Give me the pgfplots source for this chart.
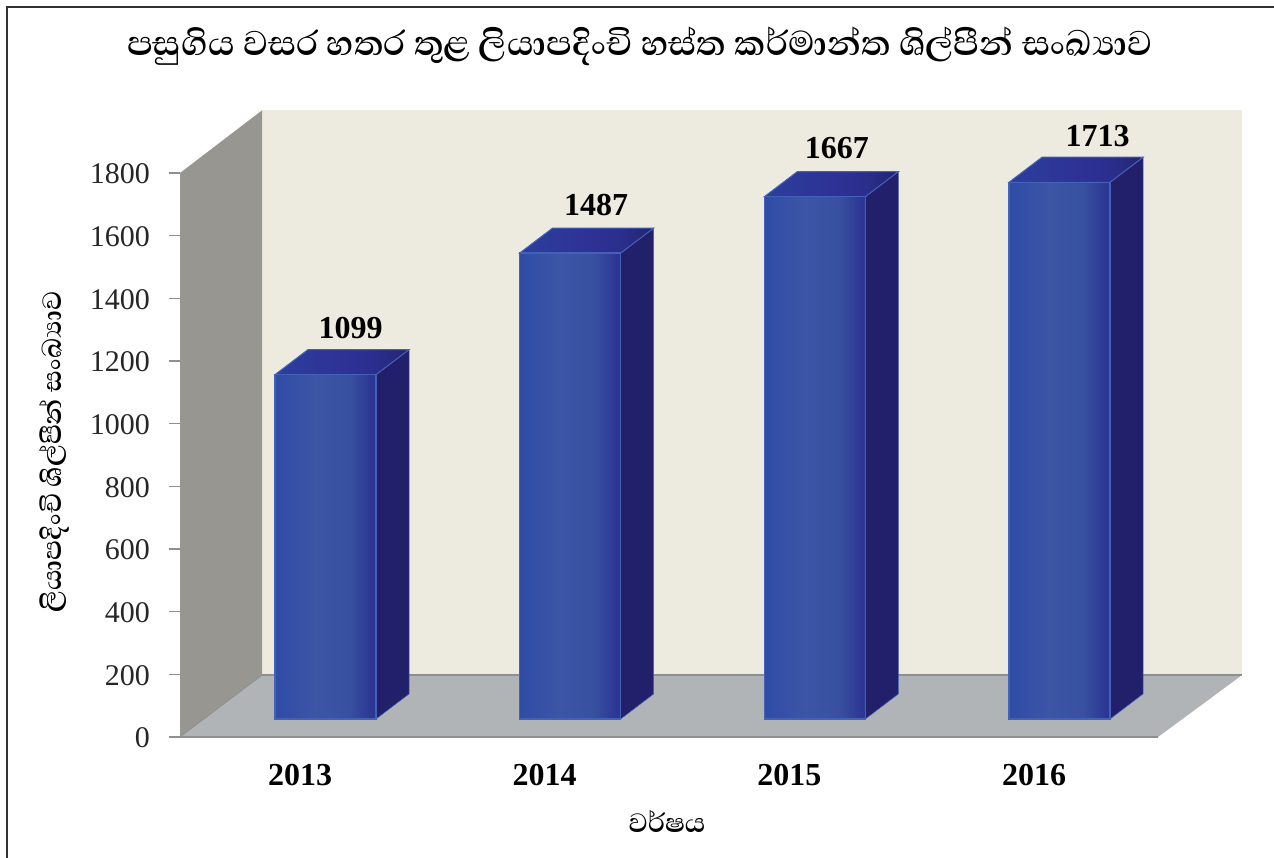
\documentclass[border=0pt]{standalone}
\usepackage{fontspec}
\setmainfont{Liberation Serif}
\newfontfamily\sinfont[Script=Sinhala]{Abhaya Libre}
\usepackage{pgfplots}
\pgfplotsset{compat=1.18}
\definecolor{backwall}{HTML}{EDEADF}
\definecolor{sidewall}{HTML}{979690}
\definecolor{floorc}{HTML}{B0B4B7}
\definecolor{edgec}{HTML}{8E8F8F}
\definecolor{barside}{HTML}{221F6B}
\definecolor{barline}{HTML}{4461BA}
\definecolor{fa}{HTML}{2F4CA6}
\definecolor{fb}{HTML}{3C55A6}
\definecolor{fc}{HTML}{38509F}
\definecolor{fd}{HTML}{2C3694}
\definecolor{ta}{HTML}{2B3F9C}
\definecolor{tb}{HTML}{2E3296}
\definecolor{tc}{HTML}{2B2E8C}
\definecolor{td}{HTML}{23256F}
\pgfdeclarehorizontalshading{barface}{100bp}{
  color(0bp)=(fa);
  color(25bp)=(fa);
  color(45bp)=(fb);
  color(62bp)=(fc);
  color(73bp)=(fd);
  color(100bp)=(fd)}
\pgfdeclarehorizontalshading{topfaceshade}{100bp}{
  color(0bp)=(ta);
  color(25bp)=(ta);
  color(50bp)=(tb);
  color(63bp)=(tc);
  color(75bp)=(td);
  color(100bp)=(td)}
\pgfplotsset{
  base/.style={
    x=244.67pt, y=0.31333pt,
    xmin=-0.4905, xmax=3.85, ymin=0, ymax=2000,
    clip=false, anchor=south west,
    /pgf/number format/assume math mode=true,
    /pgf/number format/1000 sep={},
  },
  front/.style={ybar, bar width=101pt, bar shift=0pt, draw=barline, line width=1.3pt, shade, shading=barface},
  sideface/.style={fill=barside, draw=barline, line width=0.5pt},
  topface/.style={shade, shading=topfaceshade, draw=barline, line width=1pt},
  val/.style={nodes near coords, nodes near coords style={anchor=center, xshift=#1, text=black, font=\fontsize{32}{32}\selectfont\bfseries}},
}
\begin{document}
\begin{tikzpicture}[x=1pt,y=1pt]
\useasboundingbox (0,0) rectangle (1274,858);
\draw[line width=2pt, color=black!80] (7,0) -- (7,851) -- (1274,851);
% walls, floor, ticks
\begin{axis}[base, at={(180pt,121pt)},
  axis line style={draw=none},
  axis x line*=bottom, axis y line*=left,
  ytick={0,200,400,600,800,1000,1200,1400,1600,1800},
  xtick={0,1,2,3}, xticklabels={2013,2014,2015,2016},
  y tick style={draw=edgec, line width=1.6pt},
  x tick style={draw=none},
  tick align=outside, major tick length=11pt,
  yticklabel style={font=\fontsize{30}{30}\selectfont, text=black!85, inner sep=0pt, xshift=-19pt, yshift=-1pt},
  xticklabel style={font=\fontsize{32}{32}\selectfont\bfseries, text=black, anchor=center, yshift=-27pt},
  title={\sinfont\bfseries පසුගිය වසර හතර තුළ ලියාපදිංචි හස්ත කර්මාන්ත ශිල්පීන් සංඛ්‍යාව},
  title style={at={(axis description cs:0.433,1.092)}, anchor=center, font=\fontsize{44}{44}\selectfont, inner sep=0pt},
  xlabel={\sinfont\bfseries වර්ෂය},
  xlabel style={at={(axis description cs:0.4586,-0.1356)}, anchor=center, font=\fontsize{34}{34}\selectfont, inner sep=0pt},
  ylabel={\sinfont\bfseries ලියාපදිංචි ශිල්පීන් සංඛ්‍යාව},
  ylabel style={at={(axis description cs:-0.1185,0.4548)}, anchor=center, font=\fontsize{34}{34}\selectfont, inner sep=0pt},
]
\addplot[fill=backwall, draw=none] coordinates {(-0.1553,197.5) (3.85,197.5) (3.85,2000) (-0.1553,2000)} -- cycle;
\addplot[fill=sidewall, draw=none] coordinates {(-0.4905,0) (-0.1553,197.5) (-0.1553,2000) (-0.4905,1800)} -- cycle;
\addplot[fill=floorc, draw=none] coordinates {(-0.4905,0) (-0.1553,197.5) (3.85,197.5) (3.5068,0)} -- cycle;
\addplot[draw=edgec, line width=1.4pt] coordinates {(-0.1553,197.5) (3.85,197.5)};
\addplot[draw=edgec, line width=1.4pt] coordinates {(-0.4905,0) (3.5068,0)};
\addplot[draw=edgec, line width=0.8pt] coordinates {(-0.4905,0) (-0.1553,197.5)};
\end{axis}
% bars, in an axis whose zero stands on the floor
\begin{axis}[base, at={(205.5pt,139pt)}, hide axis]
% 2013
\addplot[sideface] coordinates {(0.2064,0) (0.3413,80) (0.3413,1179) (0.2064,1099)} -- cycle;
\addplot[topface] coordinates {(-0.2064,1099) (-0.0715,1179) (0.3413,1179) (0.2064,1099)} -- cycle;
\addplot[front, val=25pt, nodes near coords style={yshift=47pt}] coordinates {(0,1099)};
% 2014
\addplot[sideface] coordinates {(1.2064,0) (1.3413,80) (1.3413,1567) (1.2064,1487)} -- cycle;
\addplot[topface] coordinates {(0.7936,1487) (0.9285,1567) (1.3413,1567) (1.2064,1487)} -- cycle;
\addplot[front, val=26pt, nodes near coords style={yshift=48pt}] coordinates {(1,1487)};
% 2015
\addplot[sideface] coordinates {(2.2064,0) (2.3413,80) (2.3413,1747) (2.2064,1667)} -- cycle;
\addplot[topface] coordinates {(1.7936,1667) (1.9285,1747) (2.3413,1747) (2.2064,1667)} -- cycle;
\addplot[front, val=22pt, nodes near coords style={yshift=49pt}] coordinates {(2,1667)};
% 2016
\addplot[sideface] coordinates {(3.2064,0) (3.3413,80) (3.3413,1793) (3.2064,1713)} -- cycle;
\addplot[topface] coordinates {(2.7936,1713) (2.9285,1793) (3.3413,1793) (3.2064,1713)} -- cycle;
\addplot[front, val=38pt, nodes near coords style={yshift=46pt}] coordinates {(3,1713)};
\end{axis}
\end{tikzpicture}
\end{document}
